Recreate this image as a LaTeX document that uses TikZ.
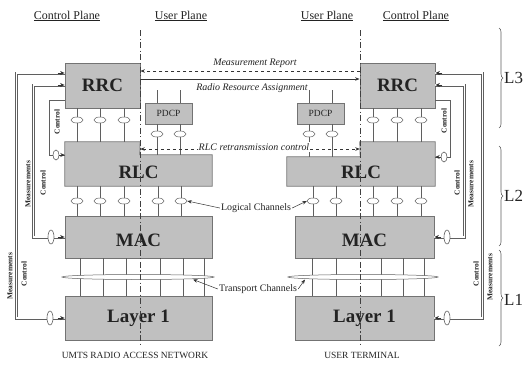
\documentclass[tikz,border=0pt]{standalone}
\usepackage{fontspec}
\setmainfont{Liberation Serif}
\usetikzlibrary{shapes.geometric,arrows.meta,decorations.pathreplacing}
\definecolor{boxfill}{RGB}{192,192,192}
\definecolor{boxedge}{RGB}{115,115,115}
\definecolor{lineg}{RGB}{95,95,95}
\definecolor{txt}{RGB}{35,35,35}
\begin{document}
\begin{tikzpicture}[x=1bp,y=-1bp,
  box/.style={draw=boxedge, fill=boxfill, line width=0.8bp, inner sep=0pt},
  fillonly/.style={fill=boxfill, inner sep=0pt},
  lbl/.style={font=\fontsize{19}{19}\selectfont\bfseries, text=txt},
  sap/.style={ellipse, draw=lineg, fill=white, line width=0.5bp, minimum width=12bp, minimum height=6bp, inner sep=0pt},
  vsap/.style={ellipse, draw=lineg, fill=white, line width=0.6bp, minimum width=6bp, minimum height=14bp, inner sep=0pt},
  lens/.style={ellipse, draw=lineg, fill=white, line width=0.5bp, minimum height=5bp, inner sep=0pt},
  ch/.style={draw=lineg, line width=0.6bp},
  hdr/.style={font=\fontsize{12}{12}\selectfont, text=txt},
  itl/.style={font=\fontsize{10}{10}\selectfont\itshape, text=txt, inner sep=1bp},
  rgl/.style={font=\fontsize{10}{10}\selectfont, text=txt, inner sep=1bp},
  vl/.style={font=\fontsize{7.5}{8}\selectfont\bfseries, rotate=90, text=txt, inner sep=0.5bp},
  arr/.style={draw=black!80, line width=0.7bp},
  tip/.style={-{Stealth[length=4.5bp,width=3.5bp]}},
  stip/.style={draw=black!80, line width=0.7bp, -{Stealth[length=4.5bp,width=4bp]}},
  side/.style={draw=lineg, line width=0.8bp, double=white, double distance=1.4bp},
  sides/.style={draw=lineg, line width=0.9bp},
  plane/.style={draw=black!75, line width=0.7bp, dash pattern=on 6bp off 2.5bp on 1.2bp off 2.5bp},
  brc/.style={draw=lineg, line width=0.6bp, decorate, decoration={brace, amplitude=4bp}},
  bot/.style={font=\fontsize{9.5}{10}\selectfont, text=txt}
]
\fill[white] (0,0) rectangle (525,365);
\useasboundingbox (0,0) rectangle (525,365);

% headers
\node[hdr] (hcl) at (67,16) {\underline{Control Plane}};
\node[hdr] (hul) at (181,16) {\underline{User Plane}};
\node[hdr] (hur) at (327,16) {\underline{User Plane}};
\node[hdr] (hcr) at (416,16) {\underline{Control Plane}};

% ---------- boxes ----------
\node[box, minimum width=75bp, minimum height=45bp] (rrcL) at (102.5,85.5) {};
\node[lbl] (rrcLt) at (rrcL) {RRC};
\node[box, minimum width=75bp, minimum height=45bp] (rrcR) at (397.5,85.5) {};
\node[lbl] (rrcRt) at (rrcR) {RRC};

\node[box, minimum width=47bp, minimum height=21bp, font=\fontsize{9.5}{10}\selectfont, text=txt] (pdcpL) at (168.5,113.5) {PDCP};
\node[box, minimum width=47bp, minimum height=21bp, font=\fontsize{9.5}{10}\selectfont, text=txt] (pdcpR) at (320.5,113.5) {PDCP};

% RLC (L-shaped)
\node[fillonly, minimum width=75bp, minimum height=44bp] (rlcLc) at (102.5,164) {};
\node[fillonly, minimum width=72bp, minimum height=31bp] (rlcLu) at (176,170.5) {};
\draw[draw=boxedge, line width=0.8bp] (rlcLc.north west) -- (rlcLc.north east) -- (rlcLu.north west)
  -- (rlcLu.north east) -- (rlcLu.south east) -- (rlcLc.south west) -- cycle;
\node[lbl] (rlcLt) at (138.5,172) {RLC};
\node[fillonly, minimum width=75bp, minimum height=44bp] (rlcRc) at (397.5,164) {};
\node[fillonly, minimum width=73bp, minimum height=29bp] (rlcRu) at (323.5,171.5) {};
\draw[draw=boxedge, line width=0.8bp] (rlcRc.north east) -- (rlcRc.north west) -- (rlcRu.north east)
  -- (rlcRu.north west) -- (rlcRu.south west) -- (rlcRc.south east) -- cycle;
\node[lbl] (rlcRt) at (361,172) {RLC};

\node[box, minimum width=147bp, minimum height=42bp] (macL) at (138.5,237) {};
\node[lbl] (macLt) at (138.5,240) {MAC};
\node[box, minimum width=139bp, minimum height=42bp] (macR) at (364.5,237) {};
\node[lbl] (macRt) at (364.5,240) {MAC};

\node[box, minimum width=147bp, minimum height=44bp] (l1L) at (138.5,318) {};
\node[lbl] (l1Lt) at (l1L) {Layer 1};
\node[box, minimum width=139bp, minimum height=44bp] (l1R) at (364.5,318) {};
\node[lbl] (l1Rt) at (l1R) {Layer 1};

% ---------- SAPs: RRC - RLC (control plane) ----------
\foreach \x [count=\i] in {77,100,124} {
  \coordinate (cpLc\i) at (\x,120);
  \draw[ch] (cpLc\i |- rrcL.south) -- (cpLc\i |- rlcLc.north);
  \node[sap] (cpL\i) at (cpLc\i) {};
}
\foreach \x [count=\i] in {373,397,421} {
  \coordinate (cpRc\i) at (\x,120);
  \draw[ch] (cpRc\i |- rrcR.south) -- (cpRc\i |- rlcRc.north);
  \node[sap] (cpR\i) at (cpRc\i) {};
}
% PDCP SAPs
\foreach \x [count=\i] in {157,180} {
  \coordinate (upLc\i) at (\x,134);
  \draw[ch] (upLc\i |- pdcpL.north) -- ++(0,-13);
  \draw[ch] (upLc\i |- pdcpL.south) -- (upLc\i |- rlcLu.north);
  \node[sap] (upL\i) at (upLc\i) {};
}
\foreach \x [count=\i] in {309,332} {
  \coordinate (upRc\i) at (\x,134);
  \draw[ch] (upRc\i |- pdcpR.north) -- ++(0,-13);
  \draw[ch] (upRc\i |- pdcpR.south) -- (upRc\i |- rlcRu.north);
  \node[sap] (upR\i) at (upRc\i) {};
}

% ---------- logical channels ----------
\foreach \x [count=\i] in {77,100,124,158,181} {
  \coordinate (lcLc\i) at (\x,201);
  \draw[ch] (lcLc\i |- rlcLc.south) -- (lcLc\i |- macL.north);
  \node[sap] (lcL\i) at (lcLc\i) {};
}
\foreach \x [count=\i] in {313,336,373,397,421} {
  \coordinate (lcRc\i) at (\x,201);
  \draw[ch] (lcRc\i |- rlcRc.south) -- (lcRc\i |- macR.north);
  \node[sap] (lcR\i) at (lcRc\i) {};
}

% ---------- transport channels ----------
\foreach \x [count=\i] in {80,103,126,160,183,204} {
  \coordinate (tcL\i) at (\x,277);
  \draw[ch] (tcL\i |- macL.south) -- (tcL\i |- l1L.north);
}
\foreach \x [count=\i] in {312,336,381,403,424} {
  \coordinate (tcR\i) at (\x,277);
  \draw[ch] (tcR\i |- macR.south) -- (tcR\i |- l1R.north);
}
\node[lens, minimum width=152bp] (lensL) at (138,277) {};
\node[lens, minimum width=150bp] (lensR) at (363,277) {};

% ---------- peer arrows ----------
\draw[arr, dashed, tip] ([yshift=14.5bp]rrcR.west) -- ([yshift=14.5bp]rrcL.east);
\node[itl] (mrep) at (255,63) {Measurement Report};
\draw[arr, tip] ([yshift=6.5bp]rrcL.east) -- ([yshift=6.5bp]rrcR.west);
\node[itl] (rra) at (252,88) {Radio Resource Assignment};

\draw[arr, dashed, {Stealth[length=4.5bp,width=3.5bp]}-{Stealth[length=4.5bp,width=3.5bp]}]
  ([yshift=15bp]rlcLc.east) -- ([yshift=15bp]rlcRc.west);
\node[itl, fill=white] (rlcrc) at (254,147) {RLC retransmission control};

\node[rgl] (lgc) at (256,208) {Logical Channels};
\draw[arr, line width=0.5bp, tip] (lgc.west) -- (lcL5.east);
\draw[arr, line width=0.5bp, tip] (lgc.east) -- (lcR1.west);

\coordinate (tipL) at (193,279.5);
\coordinate (tipR) at (305,279.5);
\node[rgl] (tpc) at (258,289) {Transport Channels};
\draw[arr, line width=0.5bp, tip] (tpc.west) -- (tipL);
\draw[arr, line width=0.5bp, tip] (tpc.east) -- (tipR);

% ---------- side control lines, left ----------
\draw[side] ([yshift=12.5bp]rrcL.west) -- ++(-48,0) |- (l1L.west);
\draw[side] ([yshift=0.5bp]rrcL.west) -- ++(-31,0) |- (macL.west);
\draw[sides] ([yshift=-14.5bp]rrcL.west) -- ++(-15,0) |- ([yshift=9bp]rlcLc.west);
\draw[stip] ([xshift=-7bp,yshift=12.5bp]rrcL.west) -- ([yshift=12.5bp]rrcL.west);
\draw[stip] ([xshift=-7bp,yshift=0.5bp]rrcL.west) -- ([yshift=0.5bp]rrcL.west);
\draw[stip] ([xshift=-7bp]l1L.west) -- (l1L.west);
\draw[stip] ([xshift=-7bp]macL.west) -- (macL.west);
\draw[stip] ([xshift=-6bp,yshift=9bp]rlcLc.west) -- ([yshift=9bp]rlcLc.west);
\node[vsap] (sL1) at (50,318) {};
\node[vsap] (sL2) at (51,237) {};
\node[vsap, minimum height=10bp] (sL3) at (56,155) {};
\node[vl] (vlc3) at (57,122) {Control};
\node[vl] (vlm2) at (28,184) {Measurements};
\node[vl] (vlc2) at (43,183) {Control};
\node[vl] (vlm1) at (10,276) {Measurements};
\node[vl] (vlc1) at (24,274) {Control};

% ---------- side control lines, right ----------
\draw[side] ([yshift=12.5bp]rrcR.east) -- ++(47,0) |- (l1R.east);
\draw[side] ([yshift=0.5bp]rrcR.east) -- ++(29,0) |- (macR.east);
\draw[sides] ([yshift=-14.5bp]rrcR.east) -- ++(15,0) |- ([yshift=7bp]rlcRc.east);
\draw[stip] ([xshift=7bp,yshift=12.5bp]rrcR.east) -- ([yshift=12.5bp]rrcR.east);
\draw[stip] ([xshift=7bp,yshift=0.5bp]rrcR.east) -- ([yshift=0.5bp]rrcR.east);
\draw[stip] ([xshift=7bp]l1R.east) -- (l1R.east);
\draw[stip] ([xshift=7bp]macR.east) -- (macR.east);
\draw[stip] ([xshift=6bp,yshift=7bp]rlcRc.east) -- ([yshift=7bp]rlcRc.east);
\node[vsap] (sR1) at (447,318) {};
\node[vsap] (sR2) at (447,237) {};
\node[vsap, minimum height=10bp] (sR3) at (444,157) {};
\node[vl] (vrc3) at (444,121) {Control};
\node[vl] (vrc2) at (457,183) {Control};
\node[vl] (vrm2) at (471,184) {Measurements};
\node[vl] (vrc1) at (476,274) {Control};
\node[vl] (vrm1) at (490,277) {Measurements};

% ---------- plane separators ----------
\coordinate (dlt) at (140,30);
\coordinate (dlb) at (140,347);
\coordinate (drt) at (360,30);
\coordinate (drb) at (360,347);
\draw[plane] (dlt) -- (dlb);
\draw[plane] (drt) -- (drb);

% ---------- layer braces ----------
\coordinate (b3t) at (499,28);  \coordinate (b3b) at (499,128);
\coordinate (b2t) at (499,146); \coordinate (b2b) at (499,246);
\coordinate (b1t) at (499,250); \coordinate (b1b) at (499,346);
\draw[brc] (b3t) -- (b3b);
\draw[brc] (b2t) -- (b2b);
\draw[brc] (b1t) -- (b1b);
\node[anchor=west, font=\fontsize{17}{17}\selectfont, text=txt, inner sep=0pt] (L3) at (504,78) {L3};
\node[anchor=west, font=\fontsize{17}{17}\selectfont, text=txt, inner sep=0pt] (L2) at (504,196) {L2};
\node[anchor=west, font=\fontsize{17}{17}\selectfont, text=txt, inner sep=0pt] (L1) at (504,300) {L1};

% ---------- bottom captions ----------
\node[bot] (utran) at (135,355) {UMTS RADIO ACCESS NETWORK};
\node[bot] (uterm) at (362,355) {USER TERMINAL};
\end{tikzpicture}
\end{document}
